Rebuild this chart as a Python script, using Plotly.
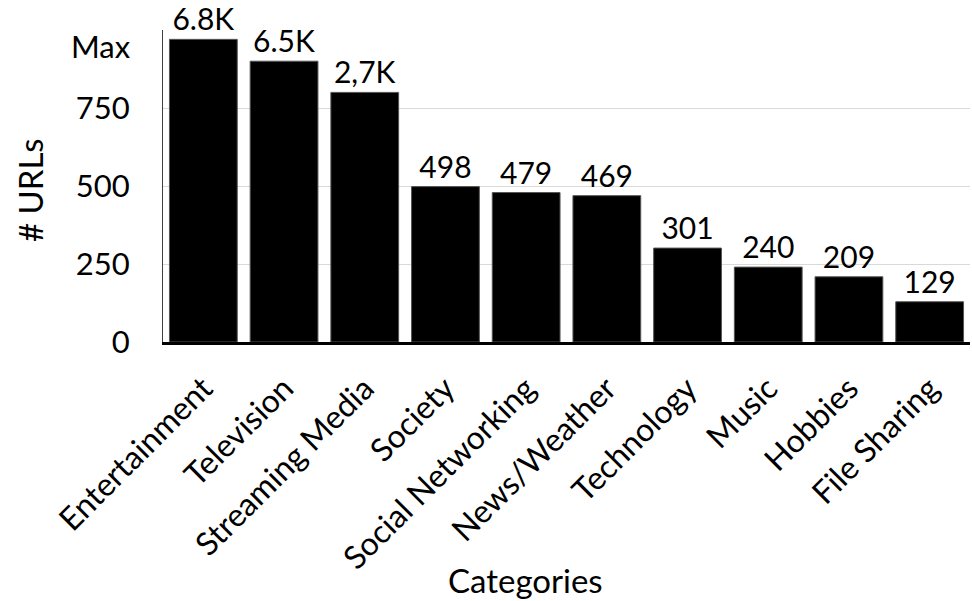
import plotly.graph_objects as go

categories = ["Entertainment", "Television", "Streaming Media", "Society",
              "Social Networking", "News/Weather", "Technology", "Music",
              "Hobbies", "File Sharing"]
url_counts = [6800, 6500, 2700, 498, 479, 469, 301, 240, 209, 129]
value_labels = ["6.8K", "6.5K", "2,7K", "498", "479", "469", "301", "240", "209", "129"]

# Broken axis: counts above the cap are drawn compressed into the band above 750
axis_cap = 1000
capped_heights = {6800: 970, 6500: 900, 2700: 800}
bar_heights = [capped_heights.get(v, v) for v in url_counts]

tick_values = [0, 250, 500, 750, 1000]
tick_labels = ["0", "250", "500", "750", ""]

FONT = "Lato"
W, H = 972, 601
M_L, M_R, M_T, M_B = 163, 2, 30, 259

fig = go.Figure(
    go.Bar(
        x=categories,
        y=bar_heights,
        text=value_labels,
        textposition="outside",
        cliponaxis=False,
        textfont=dict(family=FONT, size=30, color="black"),
        marker=dict(color="black", line=dict(color="#555555", width=1)),
        width=0.84,
    )
)

fig.update_layout(
    width=W, height=H,
    margin=dict(l=M_L, r=M_R, t=M_T, b=M_B),
    paper_bgcolor="white", plot_bgcolor="white",
    showlegend=False,
    font=dict(family=FONT, color="black"),
)

fig.update_xaxes(
    tickangle=-45,
    tickfont=dict(family=FONT, size=32, color="black"),
    ticklabelstandoff=12,
    showline=True, linecolor="black", linewidth=3,
    ticks="", showgrid=False,
)

fig.update_yaxes(
    range=[0, axis_cap],
    tickvals=tick_values, ticktext=tick_labels,
    tickfont=dict(family=FONT, size=31, color="black"),
    ticklabelstandoff=26,
    showgrid=True, gridcolor="#d9d9d9", gridwidth=1,
    showline=True, linecolor="#404040", linewidth=1,
    ticks="", zeroline=False,
)


def px_to_paper(x_px, y_px):
    """Convert page pixel coordinates to paper coordinates of the plot area."""
    return ((x_px - M_L) / (W - M_L - M_R),
            (H - y_px - M_B) / (H - M_T - M_B))


# "Max" marks the top of the broken scale
fig.add_annotation(
    x=0, xref="paper", xanchor="right", xshift=-30,
    y=950, yref="y", yanchor="middle",
    text="Max", showarrow=False,
    font=dict(family=FONT, size=31, color="black"),
)

yx, yy = px_to_paper(30, 190)
fig.add_annotation(
    x=yx, y=yy, xref="paper", yref="paper",
    xanchor="center", yanchor="middle",
    text="# URLs", showarrow=False, textangle=-90,
    font=dict(family=FONT, size=33, color="black"),
)
cx, cy = px_to_paper(525, 580)
fig.add_annotation(
    x=cx, y=cy, xref="paper", yref="paper",
    xanchor="center", yanchor="middle",
    text="Categories", showarrow=False,
    font=dict(family=FONT, size=33, color="black"),
)

fig.write_html("out.html")
